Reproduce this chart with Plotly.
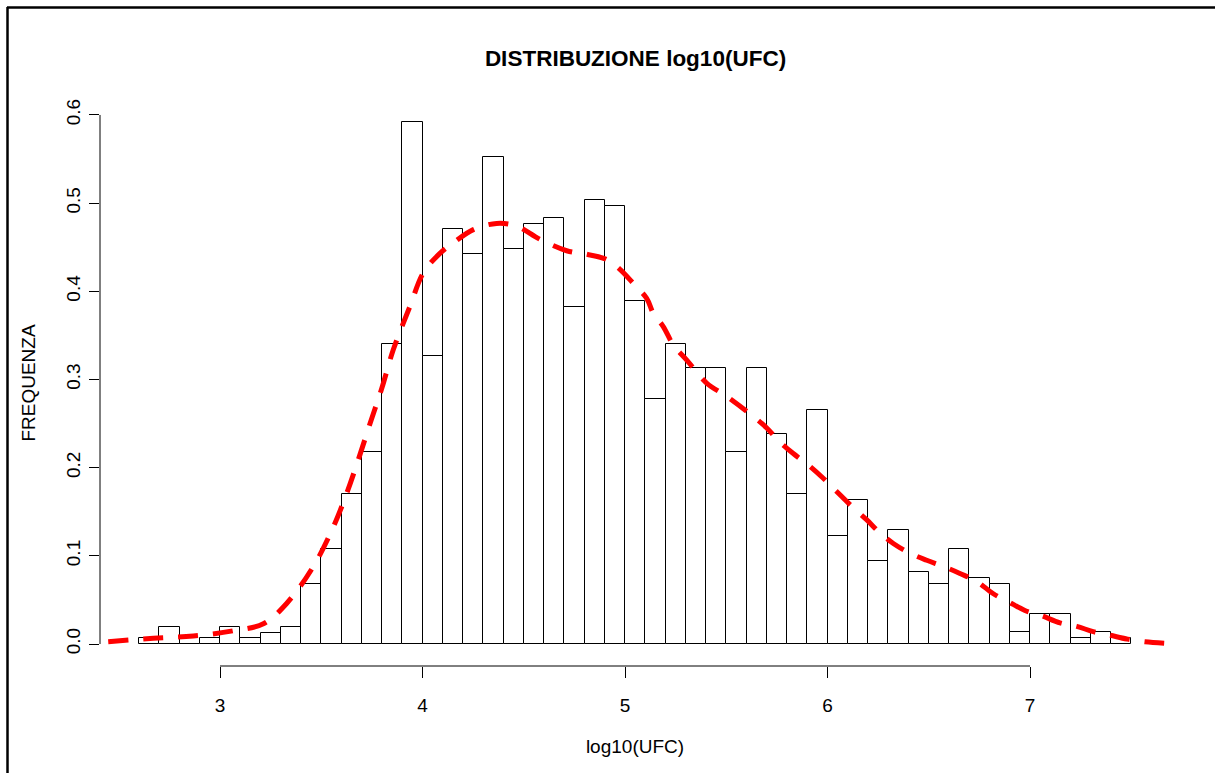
import plotly.graph_objects as go

# Histogram bins (left edges) and heights
bin_left = [2.6, 2.7, 2.8, 2.9, 3.0, 3.1, 3.2, 3.3, 3.4, 3.5, 3.6, 3.7, 3.8, 3.9,
            4.0, 4.1, 4.2, 4.3, 4.4, 4.5, 4.6, 4.7, 4.8, 4.9,
            5.0, 5.1, 5.2, 5.3, 5.4, 5.5, 5.6, 5.7, 5.8, 5.9,
            6.0, 6.1, 6.2, 6.3, 6.4, 6.5, 6.6, 6.7, 6.8, 6.9,
            7.0, 7.1, 7.2, 7.3, 7.4]
bin_width = 0.1
freq = [0.0067, 0.0196, 0.0, 0.0067, 0.0196, 0.0067, 0.0128, 0.0196, 0.0677, 0.1077,
        0.1698, 0.218, 0.340, 0.592,
        0.3267, 0.4703, 0.442, 0.552, 0.448, 0.4767, 0.4835, 0.382, 0.504, 0.497,
        0.3887, 0.278, 0.340, 0.313, 0.313, 0.218, 0.313, 0.238, 0.170, 0.265,
        0.1228, 0.163, 0.0945, 0.1297, 0.0813, 0.0677, 0.108, 0.0745, 0.0677, 0.0133,
        0.0344, 0.0344, 0.0067, 0.0133, 0.0067]

# Density curve
dens_x = [2.448, 2.671, 2.868, 3.066, 3.214, 3.329, 3.461, 3.560, 3.626, 3.683, 3.741, 3.799,
          3.856, 3.938, 4.004, 4.086, 4.152, 4.251, 4.366, 4.465, 4.580, 4.712, 4.811, 4.910,
          4.975, 5.041, 5.107, 5.140, 5.189, 5.239, 5.305, 5.403, 5.502, 5.634, 5.700, 5.765,
          5.831, 5.905, 5.979, 6.045, 6.111, 6.193, 6.259, 6.325, 6.407, 6.490, 6.572, 6.654,
          6.737, 6.819, 6.893, 6.975, 7.058, 7.148, 7.231, 7.312, 7.395, 7.478, 7.568, 7.675]
dens_y = [0.0026, 0.0065, 0.009, 0.015, 0.023, 0.046, 0.088, 0.133, 0.171, 0.209, 0.250, 0.290,
          0.334, 0.383, 0.421, 0.443, 0.455, 0.470, 0.477, 0.474, 0.459, 0.446, 0.442, 0.436,
          0.425, 0.409, 0.392, 0.375, 0.360, 0.339, 0.322, 0.296, 0.281, 0.258, 0.245, 0.229,
          0.216, 0.203, 0.188, 0.173, 0.158, 0.141, 0.126, 0.114, 0.103, 0.095, 0.088, 0.080,
          0.071, 0.057, 0.048, 0.038, 0.032, 0.024, 0.020, 0.014, 0.010, 0.0057, 0.0026, 0.0008]

x_ticks = [3, 4, 5, 6, 7]
y_ticks = [0.0, 0.1, 0.2, 0.3, 0.4, 0.5, 0.6]
y_tick_text = ["0.0", "0.1", "0.2", "0.3", "0.4", "0.5", "0.6"]

title_text = "DISTRIBUZIONE log10(UFC)"
x_title = "log10(UFC)"
y_title = "FREQUENZA"

FONT = "Liberation Sans, Arial, sans-serif"

bin_center = [b + bin_width / 2 for b in bin_left]

fig = go.Figure()
fig.add_trace(go.Bar(
    x=bin_center, y=freq, width=bin_width,
    marker=dict(color="white", line=dict(color="black", width=1)),
    hoverinfo="x+y", showlegend=False,
))
fig.add_trace(go.Scatter(
    x=dens_x, y=dens_y, mode="lines", line_shape="spline",
    line=dict(color="#ff0000", width=5, dash="20px,15px"),
    showlegend=False,
))

W, H = 1215, 773
L, R, T, B = 100, 1170, 100, 666
px_per_x = 202.5
px_per_y = 881.7
x0 = 3 - (220 - L) / px_per_x
x1 = 3 + (R - 220) / px_per_x
y0 = -(B - 644) / px_per_y
y1 = (644 - T) / px_per_y

shapes = [
    # x axis line spanning tick range
    dict(type="line", xref="x", yref="paper", x0=x_ticks[0], x1=x_ticks[-1], y0=0, y1=0,
         line=dict(color="black", width=1)),
    # y axis line spanning tick range
    dict(type="line", xref="paper", yref="y", x0=0, x1=0, y0=y_ticks[0], y1=y_ticks[-1],
         line=dict(color="black", width=1)),
]
# outer frame (top and left edges)
pw, ph = R - L, B - T
shapes.append(dict(type="line", xref="paper", yref="paper",
                   x0=(7 - L) / pw, x1=(W + 5 - L) / pw, y0=(B - 7.5) / ph, y1=(B - 7.5) / ph,
                   line=dict(color="black", width=2.5)))
shapes.append(dict(type="line", xref="paper", yref="paper",
                   x0=(7.5 - L) / pw, x1=(7.5 - L) / pw, y0=(B - 7) / ph, y1=(B - H - 5) / ph,
                   line=dict(color="black", width=2.5)))

fig.update_layout(
    width=W, height=H,
    margin=dict(l=L, r=W - R, t=T, b=H - B, pad=0),
    paper_bgcolor="white", plot_bgcolor="white",
    font=dict(family=FONT, size=19, color="black"),
    title=dict(text="<b>" + title_text + "</b>", x=(635.5) / W, xanchor="center",
               y=1 - 58 / H, yanchor="middle", font=dict(size=22.5, family=FONT)),
    xaxis=dict(range=[x0, x1], tickvals=x_ticks, ticks="outside", ticklen=11,
               tickcolor="black", showgrid=False, zeroline=False, showline=False,
               ticklabelstandoff=11,
               title=dict(text=x_title, standoff=24, font=dict(size=19))),
    yaxis=dict(range=[y0, y1], tickvals=y_ticks, ticktext=y_tick_text, ticks="outside",
               ticklen=10, tickcolor="black", showgrid=False, zeroline=False,
               showline=False, tickangle=-90, ticklabelstandoff=1,
               title=dict(text=y_title, standoff=22, font=dict(size=19))),
    shapes=shapes,
    bargap=0,
)

fig.write_html("out.html")
